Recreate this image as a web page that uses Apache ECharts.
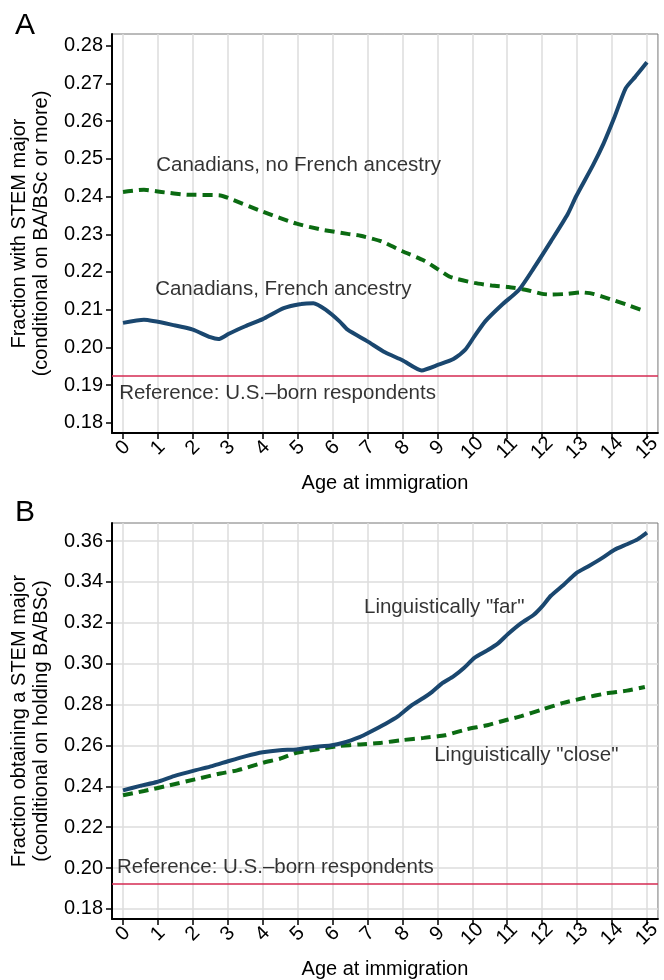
<!DOCTYPE html>
<html>
<head>
<meta charset="utf-8">
<script src="https://cdn.jsdelivr.net/npm/echarts@6/dist/echarts.min.js"></script>
<style>
html,body{margin:0;padding:0;background:#fff;}
#main{width:664px;height:980px;}
</style>
</head>
<body>
<div id="main"></div>
<script>
// ---- Data ----
const xTicks = [0,1,2,3,4,5,6,7,8,9,10,11,12,13,14,15];
const yTicksA = [0.18,0.19,0.20,0.21,0.22,0.23,0.24,0.25,0.26,0.27,0.28];
const yTicksB = [0.18,0.20,0.22,0.24,0.26,0.28,0.30,0.32,0.34,0.36];
const referenceValue = 0.1925;

const frenchAncestry = [
  [0,0.2065],[0.6,0.2073],[1.5,0.2058],[2.0,0.2047],[2.5,0.2027],[2.73,0.2022],[3.03,0.2036],
  [3.5,0.2056],[4.0,0.2075],[4.6,0.2104],[5.1,0.2115],[5.45,0.2117],[5.8,0.2100],[6.2,0.2069],
  [6.43,0.2047],[7.0,0.2016],[7.5,0.1987],[8.0,0.1966],[8.55,0.1939],[9.03,0.1954],[9.46,0.1969],
  [9.8,0.1994],[10.06,0.2029],[10.37,0.2069],[10.85,0.2113],[11.34,0.2153],[11.76,0.2210],
  [12.25,0.2281],[12.73,0.2353],[12.97,0.2400],[13.46,0.2484],[13.76,0.2541],[14.06,0.2608],
  [14.39,0.2687],[14.67,0.2718],[15.0,0.2756]
];
const noFrenchAncestry = [
  [0,0.2412],[0.6,0.2418],[1.1,0.2412],[1.82,0.2405],[2.79,0.2403],[3.1,0.2393],[4.0,0.2360],
  [4.97,0.2328],[5.7,0.2312],[6.43,0.2301],[6.8,0.2296],[7.4,0.2281],[8.0,0.2255],[8.6,0.2231],
  [8.97,0.2210],[9.34,0.2188],[9.58,0.2181],[10.06,0.2171],[10.55,0.2164],[11.03,0.2160],
  [11.52,0.2153],[12.0,0.2142],[12.25,0.2140],[12.73,0.2142],[13.1,0.2146],[13.46,0.2142],
  [13.94,0.2128],[14.43,0.2113],[14.94,0.2096]
];
const lingFar = [
  [0,0.2380],[0.49,0.2402],[0.97,0.2421],[1.46,0.2450],[2.06,0.2478],[2.55,0.2499],[3.03,0.2524],
  [3.52,0.2548],[4.0,0.2567],[4.49,0.2577],[4.97,0.2580],[5.46,0.2593],[5.94,0.2600],[6.31,0.2613],
  [6.79,0.2642],[7.03,0.2662],[7.52,0.2706],[7.88,0.2743],[8.25,0.2795],[8.61,0.2833],[8.85,0.2862],
  [9.15,0.2906],[9.46,0.2938],[9.76,0.2979],[10.06,0.3028],[10.43,0.3065],[10.73,0.3098],
  [11.03,0.3146],[11.4,0.3198],[11.76,0.3239],[12.0,0.3280],[12.25,0.3332],[12.61,0.3385],
  [12.97,0.3442],[13.34,0.3478],[13.7,0.3515],[14.06,0.3556],[14.43,0.3584],[14.73,0.3608],[15.0,0.3641]
];
const lingClose = [
  [0,0.2356],[0.6,0.2377],[1.33,0.2405],[2.06,0.2434],[2.79,0.2463],[3.27,0.2478],[4.0,0.2515],
  [4.49,0.2535],[4.97,0.2564],[5.7,0.2585],[6.18,0.2597],[6.79,0.2605],[7.4,0.2613],[8.0,0.2626],
  [8.61,0.2637],[9.22,0.2650],[9.82,0.2678],[10.43,0.2699],[11.03,0.2727],[11.4,0.2743],[12.0,0.2776],
  [12.61,0.2808],[13.22,0.2833],[13.82,0.2854],[14.43,0.2868],[14.94,0.2886]
];
const annotationsA = [
  [0.95,0.2482,'Canadians, no French ancestry'],
  [0.92,0.2155,'Canadians, French ancestry'],
  [-0.11,0.1877,'Reference: U.S.\u2013born respondents']
];
const annotationsB = [
  [6.9,0.3273,'Linguistically "far"'],
  [8.91,0.2551,'Linguistically "close"'],
  [-0.17,0.2005,'Reference: U.S.\u2013born respondents']
];

// ---- Styles ----
const FONT = '"Liberation Sans", Arial, Helvetica, sans-serif';
const BLUE = '#1a476f';
const GREEN = '#0b6b12';
const RED = '#d52a52';

function xAxisCfg(gi){
  return {
    gridIndex: gi, type: 'value', min: -0.315, max: 15.315,
    axisLine: {show: true, onZero: false, lineStyle: {color: '#000', width: 2}},
    axisTick: {show: true, customValues: xTicks, length: 6, lineStyle: {color: '#000', width: 1.5}},
    axisLabel: {customValues: xTicks, rotate: 45, align: 'center', verticalAlign: 'middle',
      fontSize: 20, color: '#000', margin: 15, fontFamily: FONT},
    splitLine: {show: true, lineStyle: {color: '#dcdcdc', width: 1.5}},
    name: 'Age at immigration', nameLocation: 'middle', nameGap: 40,
    nameTextStyle: {fontSize: 20, color: '#000', fontFamily: FONT}
  };
}
function yAxisCfg(gi, min, max, ticks, split, name){
  return {
    gridIndex: gi, type: 'value', min: min, max: max,
    axisLine: {show: true, onZero: false, lineStyle: {color: '#000', width: 2}},
    axisTick: {show: true, customValues: ticks, length: 6, lineStyle: {color: '#000', width: 1.5}},
    axisLabel: {customValues: ticks, fontSize: 20, color: '#000', margin: 9, fontFamily: FONT,
      formatter: v => v.toFixed(2)},
    splitLine: {show: split, lineStyle: {color: '#dcdcdc', width: 1.5}},
    name: name, nameLocation: 'middle', nameGap: 60,
    nameTextStyle: {fontSize: 20, color: '#000', fontFamily: FONT, lineHeight: 22, align: 'center'}
  };
}
function annoSeries(xi, yi, arr){
  return {
    type: 'scatter', xAxisIndex: xi, yAxisIndex: yi, symbolSize: 0, silent: true,
    data: arr.map(a => ({value: [a[0], a[1]], name: a[2]})),
    label: {show: true, position: 'right', distance: 0, formatter: p => p.name,
      fontSize: 20.5, color: '#000', fontFamily: FONT},
    z: 5
  };
}
function refLine(){
  return {
    silent: true, symbol: 'none', precision: 6,
    lineStyle: {color: RED, width: 1.5, type: 'solid'},
    label: {show: false},
    data: [{yAxis: referenceValue}]
  };
}

const chart = echarts.init(document.getElementById('main'), null, {renderer: 'canvas'});
chart.setOption({
  backgroundColor: '#fff',
  animation: false,
  title: [
    {text: 'A', left: 10, top: 6, textStyle: {fontSize: 30, fontWeight: 'normal', color: '#000', fontFamily: FONT}},
    {text: 'B', left: 10, top: 493, textStyle: {fontSize: 30, fontWeight: 'normal', color: '#000', fontFamily: FONT}}
  ],
  grid: [
    {left: 112, top: 34, width: 546, height: 399, show: true, borderColor: '#777', borderWidth: 1, backgroundColor: 'transparent'},
    {left: 112, top: 523, width: 546, height: 397, show: true, borderColor: '#777', borderWidth: 1, backgroundColor: 'transparent'}
  ],
  xAxis: [xAxisCfg(0), xAxisCfg(1)],
  yAxis: [
    yAxisCfg(0, 0.1773, 0.2831, yTicksA, false, 'Fraction with STEM major\n(conditional on BA/BSc or more)'),
    yAxisCfg(1, 0.1751, 0.3688, yTicksB, true, 'Fraction obtaining a STEM major\n(conditional on holding BA/BSc)')
  ],
  series: [
    {type: 'line', xAxisIndex: 0, yAxisIndex: 0, data: noFrenchAncestry, showSymbol: false, smooth: 0.2,
     lineStyle: {color: GREEN, width: 4, type: [10, 6]}, markLine: refLine(), z: 3},
    {type: 'line', xAxisIndex: 0, yAxisIndex: 0, data: frenchAncestry, showSymbol: false, smooth: 0.2,
     lineStyle: {color: BLUE, width: 4}, z: 4},
    {type: 'line', xAxisIndex: 1, yAxisIndex: 1, data: lingClose, showSymbol: false, smooth: 0.2,
     lineStyle: {color: GREEN, width: 4, type: [10, 6]}, markLine: refLine(), z: 3},
    {type: 'line', xAxisIndex: 1, yAxisIndex: 1, data: lingFar, showSymbol: false, smooth: 0.2,
     lineStyle: {color: BLUE, width: 4}, z: 4},
    annoSeries(0, 0, annotationsA),
    annoSeries(1, 1, annotationsB)
  ]
});
</script>
</body>
</html>
